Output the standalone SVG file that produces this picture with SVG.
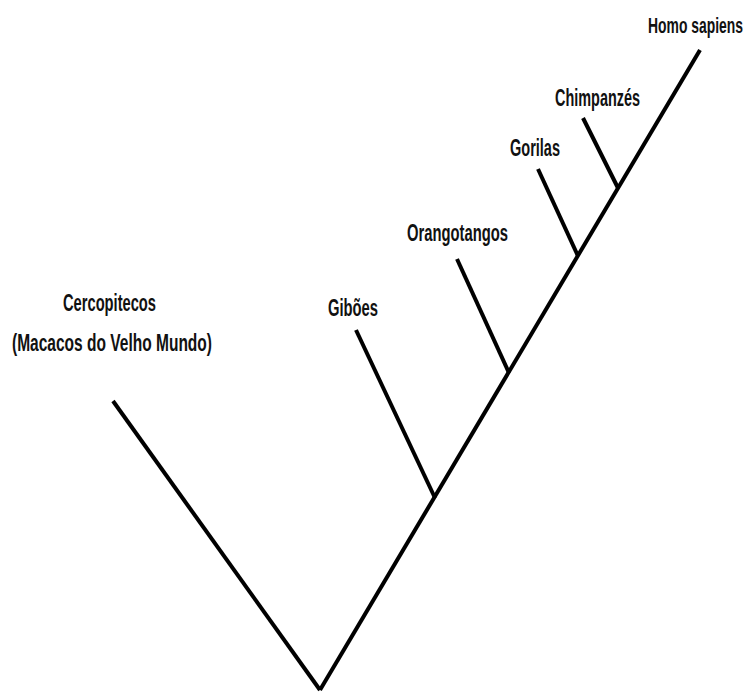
<svg xmlns="http://www.w3.org/2000/svg" width="752" height="693" viewBox="0 0 752 693">
<style>
.lbl{font-family:"Liberation Sans Narrow","Liberation Sans",Arial,sans-serif;font-weight:bold;font-size:23px;fill:#111;}
.br{stroke:#000;stroke-width:4;fill:none;stroke-linecap:butt;}
</style>
<rect width="752" height="693" fill="#fff"/>
<g id="connectors">
<line class="br" x1="320" y1="690" x2="113" y2="401"/>
<line class="br" x1="320" y1="690" x2="700" y2="50"/>
<line class="br" x1="435" y1="498" x2="356" y2="330"/>
<line class="br" x1="509" y1="373" x2="457" y2="259"/>
<line class="br" x1="578" y1="256" x2="538" y2="169"/>
<line class="br" x1="618" y1="188" x2="583" y2="118"/>
</g>
<g id="node-cercopitecos">
<text class="lbl" x="63" y="311" textLength="93" lengthAdjust="spacingAndGlyphs">Cercopitecos</text>
<text class="lbl" x="12" y="351" textLength="200" lengthAdjust="spacingAndGlyphs">(Macacos do Velho Mundo)</text>
</g>
<g id="node-giboes">
<text class="lbl" x="328" y="316" textLength="50" lengthAdjust="spacingAndGlyphs">Gibões</text>
</g>
<g id="node-orangotangos">
<text class="lbl" x="407" y="241" textLength="101" lengthAdjust="spacingAndGlyphs">Orangotangos</text>
</g>
<g id="node-gorilas">
<text class="lbl" x="510" y="156" textLength="50" lengthAdjust="spacingAndGlyphs">Gorilas</text>
</g>
<g id="node-chimpanzes">
<text class="lbl" x="555" y="106" textLength="85" lengthAdjust="spacingAndGlyphs">Chimpanzés</text>
</g>
<g id="node-homo-sapiens">
<text class="lbl" style="font-size:17px" transform="translate(743,33) scale(1,1.3)" x="0" y="0" text-anchor="end" textLength="95" lengthAdjust="spacingAndGlyphs">Homo sapiens</text>
</g>
</svg>
